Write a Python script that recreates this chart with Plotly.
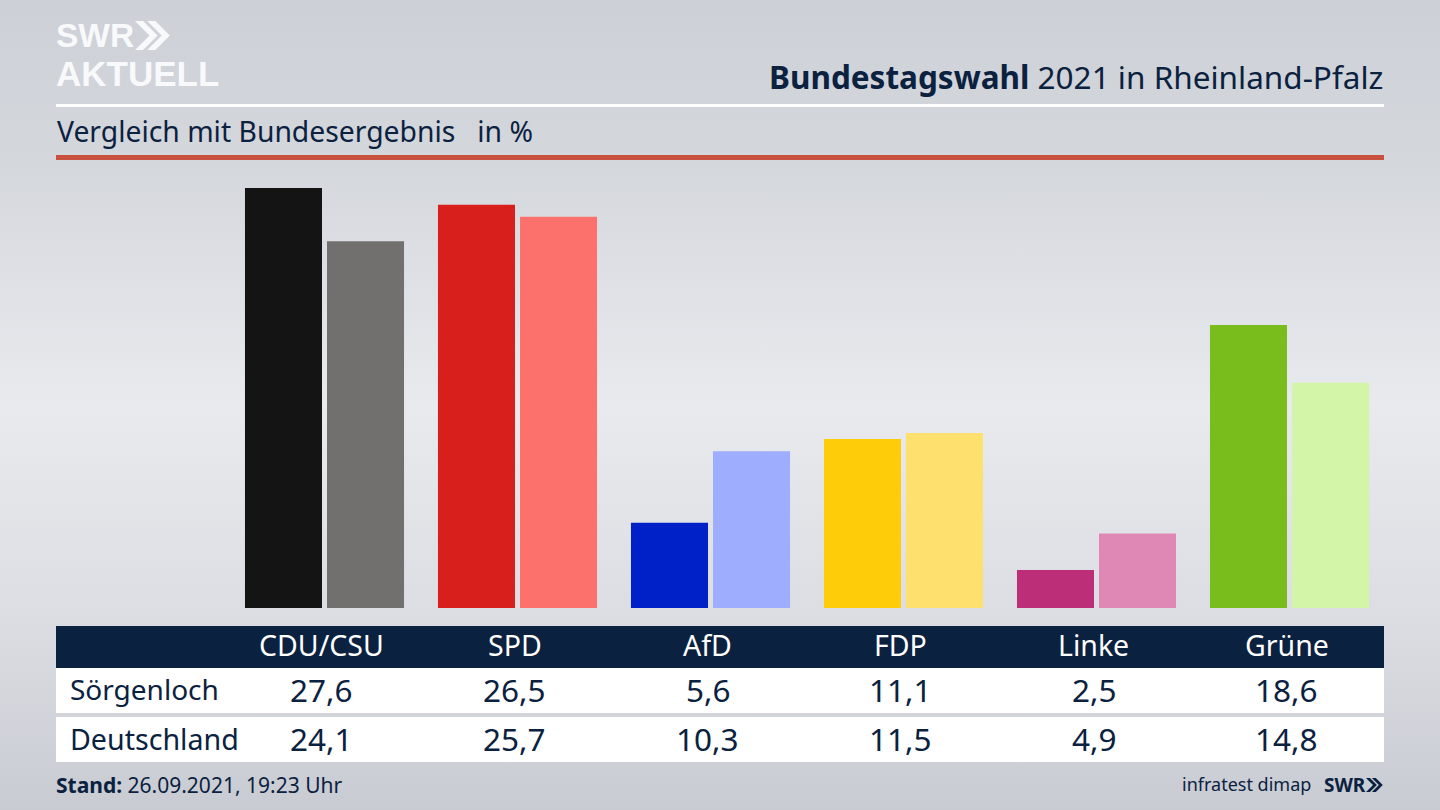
import plotly.graph_objects as go

categories = ["CDU/CSU", "SPD", "AfD", "FDP", "Linke", "Grüne"]
region_name = "Sörgenloch"
national_name = "Deutschland"
region_values = [27.6, 26.5, 5.6, 11.1, 2.5, 18.6]
national_values = [24.1, 25.7, 10.3, 11.5, 4.9, 14.8]
region_colors = ["#141414", "#d81f1c", "#0020c8", "#fecc09", "#bc2e78", "#78bd1c"]
national_colors = ["#72706e", "#fd716d", "#9fadff", "#fde06e", "#df88b6", "#d3f5a8"]

W, H = 1440, 810
NAVY = "#0b2140"
FONT = "Noto Sans"
LOGO_FONT = "Liberation Sans"
LOGO_COLOR = "#f8f9fa"


def fx(p):
    return p / W


def fy(p):
    return 1 - p / H


def de(v):
    return f"{v:.1f}".replace(".", ",")


fig = go.Figure()
fig.add_bar(x=categories, y=region_values, name=region_name,
            marker=dict(color=region_colors, line_width=0), hoverinfo="x+y")
fig.add_bar(x=categories, y=national_values, name=national_name,
            marker=dict(color=national_colors, line_width=0), hoverinfo="x+y")

svg = ("data:image/svg+xml;utf8,<svg xmlns='http://www.w3.org/2000/svg' width='1440' height='810' "
       "preserveAspectRatio='none'><defs><linearGradient id='g' x1='0' y1='0' x2='0' y2='1'>"
       "<stop offset='0' stop-color='%23cdd0d6'/><stop offset='0.2' stop-color='%23d4d7dc'/>"
       "<stop offset='0.5' stop-color='%23e8eaee'/><stop offset='0.75' stop-color='%23dcdee3'/>"
       "<stop offset='1' stop-color='%23c8cbd2'/></linearGradient></defs>"
       "<rect width='1440' height='810' fill='url(%23g)'/></svg>")


def rect(x0, y0, x1, y1, color):
    return dict(type="rect", xref="paper", yref="paper", x0=fx(x0), x1=fx(x1),
                y0=fy(y1), y1=fy(y0), fillcolor=color, line_width=0, layer="below")


def chevrons(x, y, h, color):
    d = h * 0.5
    w = h * 0.28
    out = []
    for off in (0, h * 0.42):
        x0 = x + off
        path = (f"M {fx(x0)} {fy(y)} L {fx(x0 + w)} {fy(y)} L {fx(x0 + w + d)} {fy(y + h / 2)} "
                f"L {fx(x0 + w)} {fy(y + h)} L {fx(x0)} {fy(y + h)} L {fx(x0 + d)} {fy(y + h / 2)} Z")
        out.append(dict(type="path", xref="paper", yref="paper", path=path,
                        fillcolor=color, line_width=0))
    return out


shapes = [
    rect(56, 104, 1384, 107, "#ffffff"),
    rect(56, 155, 1384, 160, "#c8503f"),
    rect(56, 626, 1384, 668, NAVY),
    rect(56, 668, 1384, 713, "#ffffff"),
    rect(56, 717, 1384, 762, "#ffffff"),
]
shapes += chevrons(135, 21, 29, LOGO_COLOR)
shapes += chevrons(1366, 778, 14, NAVY)


def text(x, y, s, size, color=NAVY, anchor="left", xref="paper", family=FONT, xshift=0):
    return dict(x=fx(x) if xref == "paper" else x, y=fy(y), xref=xref, yref="paper",
                text=s, showarrow=False, xanchor=anchor, yanchor="middle", xshift=xshift,
                font=dict(family=family, size=size, color=color))


ann = [
    text(54, 35.5, "<b>SWR</b>", 33.5, LOGO_COLOR, family=LOGO_FONT),
    text(54, 73, "<b>AKTUELL</b>", 35, LOGO_COLOR, family=LOGO_FONT),
    text(1385, 76.5, "<b>Bundestagswahl</b> 2021 in Rheinland-Pfalz", 31.5, anchor="right"),
    text(55, 131, "Vergleich mit Bundesergebnis\u00a0\u00a0\u00a0in %", 28.3),
    text(68, 689, region_name, 28),
    text(68, 738, national_name, 28.6),
    text(54, 785, "<b>Stand:</b> 26.09.2021, 19:23 Uhr", 21),
    text(1313, 784, "infratest dimap", 18, anchor="right"),
    text(1322, 785, "<b>SWR</b>", 19, anchor="left"),
]
for c, a, b in zip(categories, region_values, national_values):
    ann.append(text(c, 645, c, 28.5, "#ffffff", "center", "x", xshift=-3))
    ann.append(text(c, 689.5, de(a), 31.5, NAVY, "center", "x", xshift=-3))
    ann.append(text(c, 738.5, de(b), 31.5, NAVY, "center", "x", xshift=-3))

fig.update_layout(
    width=W, height=H, autosize=False,
    margin=dict(l=0, r=0, t=0, b=0),
    paper_bgcolor="#dcdee3", plot_bgcolor="rgba(0,0,0,0)",
    barmode="group", bargap=0.15, bargroupgap=0.061,
    showlegend=False,
    shapes=shapes, annotations=ann,
    images=[dict(source=svg, xref="paper", yref="paper", x=0, y=1, sizex=1, sizey=1,
                 xanchor="left", yanchor="top", sizing="stretch", layer="below")],
    xaxis=dict(domain=[fx(228), fx(1386)], showticklabels=False, ticks="", showgrid=False,
               zeroline=False, showline=False, fixedrange=True),
    yaxis=dict(domain=[fy(608), fy(172)], range=[0, 436 / 15.22], showticklabels=False,
               ticks="", showgrid=False, zeroline=False, showline=False, fixedrange=True),
)

fig.write_html("out.html", config={"displayModeBar": False},
               post_script="document.body.style.margin='0';document.body.style.overflow='hidden';")
